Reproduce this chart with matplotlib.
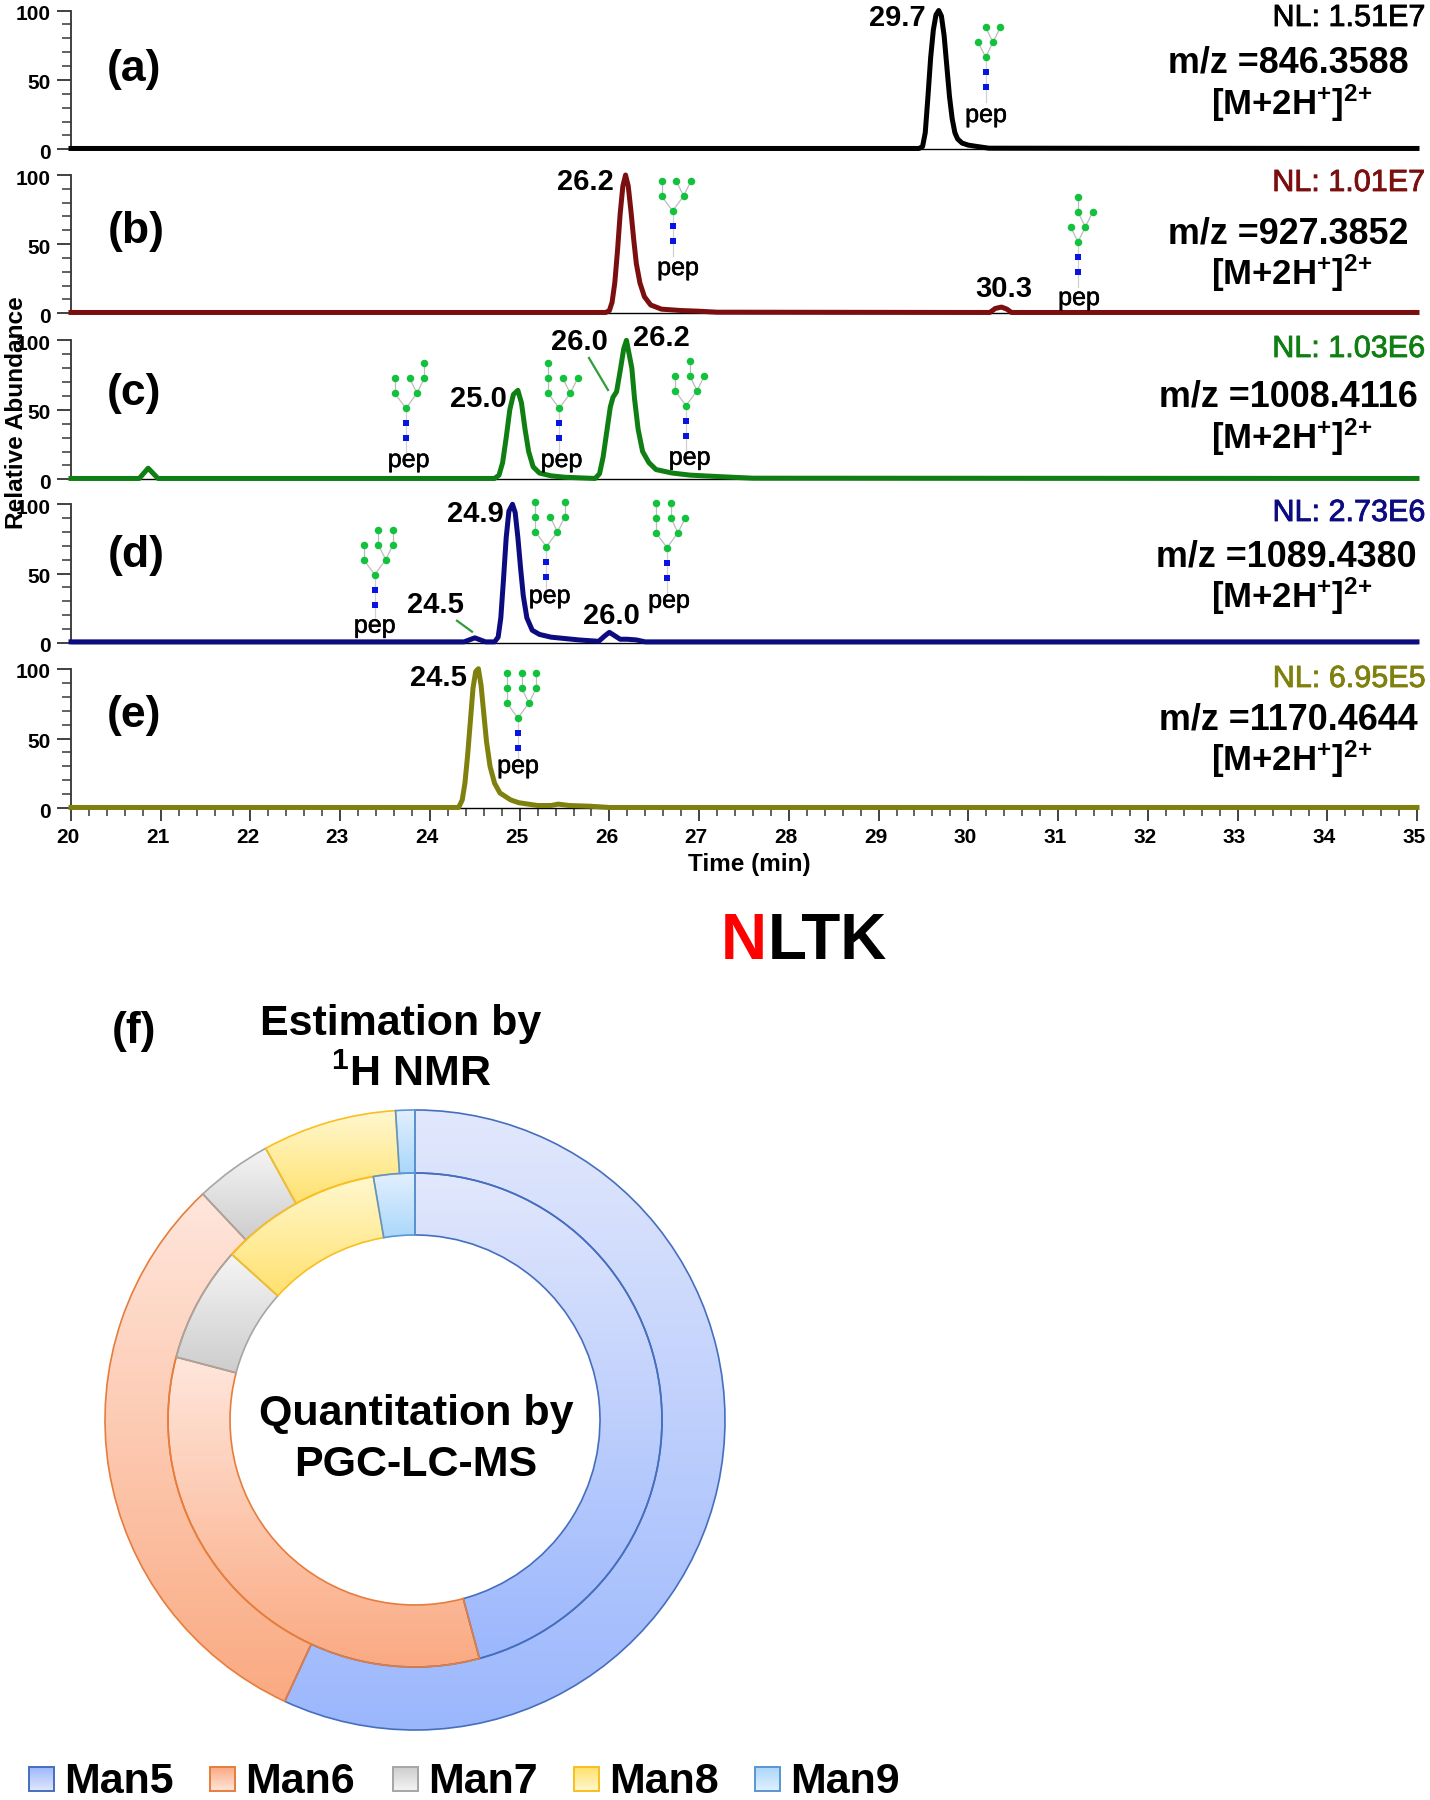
import numpy as np
import matplotlib
matplotlib.use('Agg')
import matplotlib.pyplot as plt
import matplotlib.patheffects as pe
from matplotlib.patches import Rectangle
from matplotlib.ticker import MultipleLocator
from matplotlib.transforms import ScaledTranslation

plt.rcParams['font.family'] = ['Liberation Sans', 'DejaVu Sans']
plt.rcParams['mathtext.default'] = 'regular'

# chromatograms (time in min, relative abundance)
time_a = [20, 29.45, 29.49, 29.52, 29.55, 29.58, 29.61, 29.64, 29.67, 29.70, 29.73, 29.76, 29.79, 29.82, 29.85, 29.88, 29.93, 30.00, 30.10, 30.23, 35]
abund_a = [0.6, 0.6, 2, 12, 38, 66, 86, 97, 100, 96, 82, 60, 38, 22, 12, 7.5, 4.5, 3, 2, 0.8, 0.6]

time_b = [20, 25.96, 26.00, 26.03, 26.06, 26.09, 26.12, 26.15, 26.18, 26.21, 26.24, 26.27, 26.30, 26.34, 26.39, 26.46, 26.58, 26.80, 27.00, 27.20,
          30.24, 30.30, 30.37, 30.43, 30.48, 35]
abund_b = [0.6, 0.6, 2, 8, 22, 45, 72, 92, 100, 92, 74, 54, 36, 22, 12, 6, 3, 2, 1.5, 0.8,
           0.6, 3.5, 4.5, 3, 0.6, 0.6]

time_c = [20, 20.76, 20.86, 20.97, 24.72, 24.77, 24.81, 24.85, 24.89, 24.93, 24.98, 25.02, 25.06, 25.10, 25.15, 25.22, 25.35, 25.50, 25.84,
          25.89, 25.93, 25.97, 26.01, 26.04, 26.08, 26.12, 26.16, 26.19, 26.22, 26.25, 26.28, 26.32, 26.37, 26.44, 26.52, 26.70, 26.90, 27.20, 27.60, 35]
abund_c = [0.6, 0.6, 8, 0.6, 0.6, 3, 12, 30, 50, 61, 64, 55, 36, 20, 9, 4.5, 2.5, 1.5, 0.6,
           4, 16, 34, 52, 59, 63, 78, 94, 100, 90, 80, 58, 36, 20, 12, 7, 4.5, 3, 2, 0.8, 0.6]

time_d = [20, 24.38, 24.50, 24.62, 24.72, 24.76, 24.79, 24.82, 24.85, 24.88, 24.92, 24.95, 24.98, 25.01, 25.04, 25.08, 25.14, 25.22, 25.35, 25.66,
          25.88, 25.95, 26.00, 26.06, 26.12, 26.20, 26.30, 26.40, 35]
abund_d = [0.6, 0.6, 3.5, 0.6, 0.6, 4, 18, 46, 76, 95, 100, 94, 76, 54, 34, 18, 9, 6, 4, 2,
           1, 5, 7.5, 5, 2.5, 2.5, 2, 0.6, 0.6]

time_e = [20, 24.32, 24.36, 24.39, 24.42, 24.45, 24.48, 24.51, 24.54, 24.57, 24.60, 24.63, 24.67, 24.72, 24.78, 24.90, 24.99, 25.20, 25.35, 25.43, 25.55, 25.78, 26.0, 35]
abund_e = [0.6, 0.6, 6, 18, 38, 62, 86, 98, 100, 88, 68, 48, 30, 18, 11, 6, 4, 2, 2, 3, 2, 1.5, 0.6, 0.6]

panel_times = [time_a, time_b, time_c, time_d, time_e]
panel_abund = [abund_a, abund_b, abund_c, abund_d, abund_e]
panel_names = ['(a)', '(b)', '(c)', '(d)', '(e)']
panel_colors = ['#000000', '#7b0f10', '#0f7f14', '#0c0c80', '#80800e']
nl_labels = ['NL: 1.51E7', 'NL: 1.01E7', 'NL: 1.03E6', 'NL: 2.73E6', 'NL: 6.95E5']
mz_labels = ['m/z =846.3588', 'm/z =927.3852', 'm/z =1008.4116', 'm/z =1089.4380', 'm/z =1170.4644']

# donut shares in percent, outer and inner ring
glycans = ['Man5', 'Man6', 'Man7', 'Man8', 'Man9']
nmr_share = [56.9, 31.1, 4.0, 7.0, 1.0]
lcms_share = [45.8, 33.3, 7.6, 10.6, 2.7]

W, H = 1430, 1800
fig = plt.figure(figsize=(W / 100, H / 100), dpi=100)


def px_axes(left, top, right, bottom):
    return fig.add_axes([left / W, 1 - bottom / H, (right - left) / W, (bottom - top) / H])


def px_shift(dx, dy):
    return ScaledTranslation(dx / 100, dy / 100, fig.dpi_scale_trans)


# ---- chromatogram panels
panel_top = [10.5, 175, 340.3, 504.3, 668.7]
panel_bot = [149.3, 313.3, 479.3, 642.7, 808.3]
for i in range(5):
    ax = px_axes(71, panel_top[i], 1417, panel_bot[i])
    ax.patch.set_alpha(0)
    ax.plot(panel_times[i], panel_abund[i], color=panel_colors[i], lw=3.6, clip_on=False,
            solid_joinstyle='round', zorder=5)
    ax.set_xlim(20, 35)
    ax.set_ylim(0, 100)
    for s in ['top', 'right']:
        ax.spines[s].set_visible(False)
    ax.spines['left'].set_linewidth(1.3)
    ax.spines['left'].set_color('#333333')
    ax.spines['bottom'].set_linewidth(1.0)
    ax.yaxis.set_major_locator(MultipleLocator(50))
    ax.yaxis.set_minor_locator(MultipleLocator(10))
    ax.tick_params(axis='y', which='major', length=10, width=1.3, color='#333333', pad=4.5)
    ax.tick_params(axis='y', which='minor', length=6.5, width=1.3, color='#555555')
    for lab in ax.get_yticklabels():
        lab.set_fontsize(15)
        lab.set_fontweight('bold')
        lab.set_transform(lab.get_transform() + px_shift(0, -2))
    if i < 4:
        ax.set_xticks([])
    else:
        ax.xaxis.set_major_locator(MultipleLocator(1))
        ax.xaxis.set_minor_locator(MultipleLocator(0.2))
        ax.tick_params(axis='x', which='major', length=9, width=1.3, color='#333333', pad=5)
        ax.tick_params(axis='x', which='minor', length=6, width=1.3, color='#555555')
        for lab in ax.get_xticklabels():
            lab.set_fontsize(15)
            lab.set_fontweight('bold')
            lab.set_transform(lab.get_transform() + px_shift(-3, 0))

# ---- everything placed by pixel: labels, glycan cartoons
over = fig.add_axes([0, 0, 1, 1], zorder=10)
over.patch.set_alpha(0)
over.axis('off')
over.set_xlim(0, W)
over.set_ylim(H, 0)


def put(x, y, s, size=15, weight='bold', color='black', ha='center', **kw):
    return over.text(x, y, s, fontsize=size, fontweight=weight, color=color, ha=ha, va='center', **kw)


name_xy = [(134, 70), (136, 231), (134, 393), (136, 555), (134, 716)]
nl_y = [18, 183, 349, 513, 679]
mz_y = [63, 234, 397, 557, 720]
mz_x = [1288, 1288, 1288, 1286, 1288]
ion_y = [103, 273, 437, 596, 759]
for i in range(5):
    put(name_xy[i][0], name_xy[i][1], panel_names[i], size=32)
    t = put(1425, nl_y[i], nl_labels[i], size=22, weight='normal', color=panel_colors[i], ha='right')
    t.set_path_effects([pe.withStroke(linewidth=0.6, foreground=panel_colors[i])])
    put(mz_x[i], mz_y[i], mz_labels[i], size=25.8)
    put(1292, ion_y[i], '[M+2H$^{+}$]$^{2{+}}$', size=25)
put(134, 1032, '(f)', size=32)

peak_text = [(897.5, 18, '29.7'), (585, 182, '26.2'), (1004, 289, '30.3'), (478, 399, '25.0'),
             (579.4, 342, '26.0'), (661, 338, '26.2'), (475, 514, '24.9'), (435, 605, '24.5'),
             (611, 616, '26.0'), (438.5, 678, '24.5')]
for x, y, s in peak_text:
    put(x, y, s, size=21)
over.plot([589, 608], [358, 390], color='#2f9e3a', lw=1.6)
over.plot([457, 472], [620.7, 631.7], color='#2f9e3a', lw=1.6)

put(17, 413, 'Relative Abundance', size=17.6, rotation=90)
put(749.5, 865, 'Time (min)', size=17.5)

put(721, 942, 'N', size=46, color='#ff0000', ha='left')
put(768, 942, 'LTK', size=46, ha='left')

# glycan cartoons: core position, then x offsets of each branching level
glycan_draw = [
    (985.6, 57.3, [[-1, 1], [0, 2]], (986, 115)),
    (672.6, 211, [[-1.5, 1.5], [-1.5, 0.5, 2.5]], (678, 268)),
    (1078, 242, [[-1, 1], [0, 2], [0]], (1079, 298)),
    (405.9, 408.3, [[-1.5, 1.5], [-1.5, 0.5, 2.5], [2.5]], (408.6, 460)),
    (559.2, 408.3, [[-1.5, 1.5], [-1.5, 0.5, 2.5], [-1.5]], (561.5, 460)),
    (686, 405.7, [[-1.5, 1.5], [-1.5, 0.5, 2.5], [0.5]], (689.6, 457.7)),
    (374.7, 574.7, [[-1.5, 1.5], [-1.5, 0.5, 2.5], [0.5, 2.5]], (374.7, 625.7)),
    (546.4, 546.7, [[-1.5, 1.5], [-1.5, 0.5, 2.5], [-1.5, 2.5]], (549.6, 596)),
    (667, 547.7, [[-1.5, 1.5], [-1.5, 0.5, 2.5], [-1.5, 0.5]], (669, 600.7)),
    (517.9, 718, [[-1.5, 1.5], [-1.5, 0.5, 2.5], [-1.5, 0.5, 2.5]], (518, 766)),
]
unit = 7.35
step = 15
for cx, cy, levels, pep_xy in glycan_draw:
    prev = [0]
    over.plot([cx, cx], [cy, cy + 45], color='#d0d0d0', lw=0.9, zorder=1)
    gx, gy = [cx], [cy]
    for n, level in enumerate(levels):
        for off in level:
            parent = min(prev[::-1], key=lambda p: abs(p - off))
            x1 = cx + off * unit
            y1 = cy - (n + 1) * step
            over.plot([cx + parent * unit, x1], [cy - n * step, y1], color='#bcbcbc', lw=0.9, zorder=1)
            gx.append(x1)
            gy.append(y1)
        prev = level
    over.plot(gx, gy, 'o', color='#12c23c', ms=5.4, mew=0, zorder=2)
    over.plot([cx, cx], [cy + 15, cy + 30], 's', color='#0a14e0', ms=5, mew=0, zorder=2)
    t = put(pep_xy[0], pep_xy[1], 'pep', size=18, weight='normal')
    t.set_path_effects([pe.withStroke(linewidth=0.4, foreground='black')])

# ---- donut
top_col = ['#e2e8fd', '#ffe6dc', '#f5f5f5', '#fff8cf', '#e2f0ff']
bot_col = ['#9bb7fc', '#faaa82', '#cdcdcd', '#ffe16e', '#aad7fa']
edge_col = ['#466ebe', '#e67d3c', '#a5a5a5', '#fabe1e', '#5a96d2']


def gradient_fill(axis, patch, c0, c1):
    bb = patch.get_path().get_extents(patch.get_patch_transform())
    c0 = np.array(matplotlib.colors.to_rgb(c0))
    c1 = np.array(matplotlib.colors.to_rgb(c1))
    t = np.linspace(0, 1, 256)[:, None, None]
    img = c0[None, None, :] * (1 - t) + c1[None, None, :] * t
    im = axis.imshow(img, extent=(bb.x0, bb.x1, bb.y0, bb.y1), origin='upper', aspect='auto', zorder=1)
    im.set_clip_path(patch)


cx, cy = 415, 1420
donut = px_axes(cx - 320, cy - 320, cx + 320, cy + 320)
donut.patch.set_alpha(0)
for share, r, w in [(nmr_share, 310, 63), (lcms_share, 247, 62)]:
    wedges, _ = donut.pie(share, radius=r, startangle=90, counterclock=False,
                          wedgeprops=dict(width=w, linewidth=1.2))
    for k, wd in enumerate(wedges):
        gradient_fill(donut, wd, top_col[k], bot_col[k])
        wd.set_facecolor('none')
        wd.set_edgecolor(edge_col[k])
        wd.set_zorder(2)
donut.set_xlim(-320, 320)
donut.set_ylim(-320, 320)
donut.axis('off')

put(401, 1024, 'Estimation by', size=31)
put(411, 1075, '$^{1}$H NMR', size=31)
put(416, 1414, 'Quantitation by', size=31)
put(415.5, 1465, 'PGC-LC-MS', size=31)

# ---- legend row
leg_x = [29, 210, 393, 574, 755]
for k, name in enumerate(glycans):
    box = Rectangle((leg_x[k], 1767), 25, 24, edgecolor=edge_col[k], linewidth=1.4, facecolor='none', zorder=3)
    over.add_patch(box)
    gradient_fill(over, box, top_col[k], bot_col[k])
    put(leg_x[k] + 35, 1782, name, size=31, ha='left')
over.set_xlim(0, W)
over.set_ylim(H, 0)

fig.savefig('out.png', dpi=100)
